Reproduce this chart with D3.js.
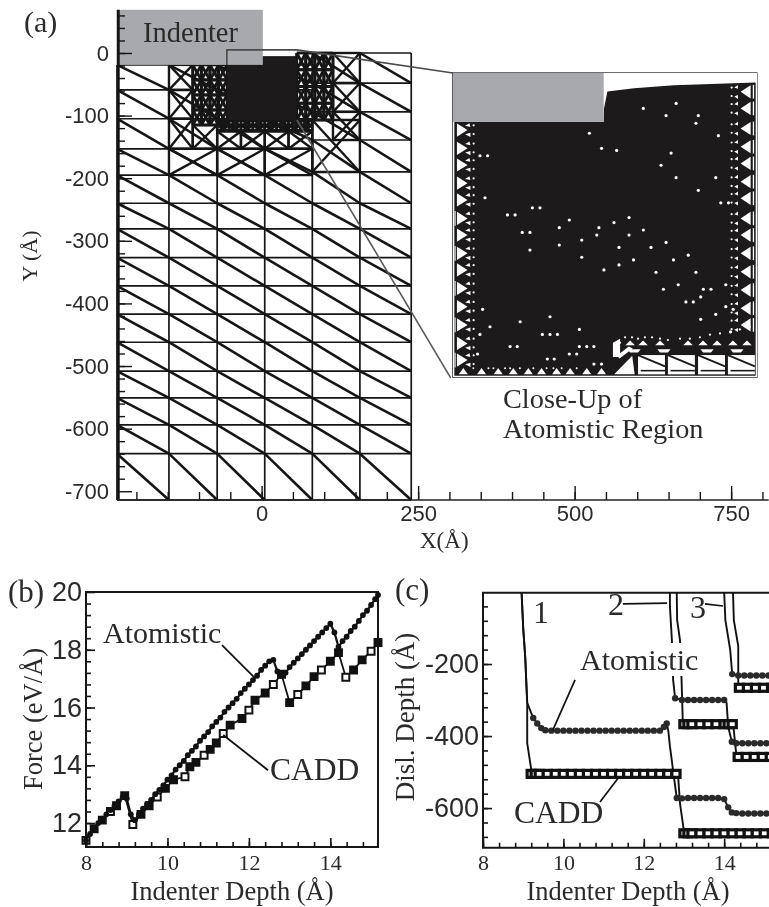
<!DOCTYPE html>
<html>
<head>
<meta charset="utf-8">
<title>Indentation mesh, force and dislocation depth</title>
<script src="https://d3js.org/d3.v7.min.js"></script>
<style>
  html, body { margin: 0; padding: 0; background: #fff; overflow: hidden; }
  svg { display: block; filter: blur(0.55px); }
  text { fill: #2a2a2a; }
  .serif, .serif text { font-family: "Liberation Serif", serif; }
  .sans, .sans text { font-family: "Liberation Sans", sans-serif; }
</style>
</head>
<body>
<svg id="fig" width="769" height="907"></svg>
<script>
// ---- panel (a): finite element mesh, all in Angstrom
const meshColumns = [-231, -148, -71, 5, 81, 157, 239];
const meshRowsLeft = [-19, -59, -105, -153, -195];
const meshRowsRight = [0, -48, -94, -139, -190];
const meshRowsShared = [-240, -281, -327, -372, -417, -462, -508, -551, -594, -640, -714];
// [x0, y0, x1, y1, subdivisions] patches of refined mesh around the atomistic box
const refinedPatches = [
  [-148, -19, -110, -59, 0], [-148, -59, -110, -105, 0], [-148, -105, -110, -153, 0], [-148, -153, -71, -195, 0],
  [-110, -19, -55, -115, 2],
  [-110, -115, -71, -153, 0], [-71, -107, -33, -125, 1], [-33, -107, 5, -125, 1], [5, -107, 43, -125, 1], [43, -107, 81, -125, 1],
  [-71, -125, -33, -153, 0], [-33, -125, 5, -153, 0], [5, -125, 43, -153, 0], [43, -125, 81, -153, 0],
  [-71, -153, 5, -195, 0], [5, -153, 81, -195, 0],
  [56, 0, 114, -107, 2], [114, 0, 157, -48, 0], [114, -48, 157, -94, 0], [114, -94, 157, -139, 0], [81, -107, 157, -190, 0]
];
const denseBox = [-55.5, -5, 56.4, -107];
const indenterBox = [-229, 69, 2, -19];
const zoomBoxPath = [[-55.5, -19], [-55.5, 5], [56.4, 5], [305.6, -32]];
const zoomLowerPath = [[56.4, -107], [302, -519]];
const zoomFrame = [305.6, -32, 791, -517.6];

// close-up of the atomistic region, in Angstrom
const closeIndenter = [-57, 0, 0, -18.5];
const closeDenseTop = [[0, -18.5], [0.1, -13.5], [1.4, -7], [11.5, -5.8], [26.6, -4.6], [46.3, -4], [57.5, -3.6]];
const closeBottomEdge = [[57.5, -114.5], [-56.5, -114.5], [-56.5, -18.5]];
const closeDotX = [15, 27.4, 23.6, 35.8, 34.9, -5.4, 43.4, -0.8, 4.9, 25.5, -46.8, -43.9, 21.7, 27.4, 42.4, 35.8, -44.9, 44.3, 47.2, -27, -24.1, -36.4, -33.5, 9.6, -13, 3.9, -16.8, -1.8, 15, -30.8, -27.9, -2.6, 9.6, -8.3, 23.6, -16.8, 5.8, 17.9, -27.9, 32, -8.3, 11.3, 26.4, 5.8, 0.1, 19.8, 34.9, 46.2, 28.2, 22.6, 37.7, 40.6, 36.7, 31.1, 33.9, 46.2, 49, -45.8, 42.4, -20.3, 36.7, -31.6, -43, -9.2, -46.8, -23.2, -20.3, -17.5, 48, -35.4, -32.7, -9.2, -6.4, -3.7, -47.7, -13, -10.2, -21.3, -18.7, -3.7, -0.8];
const closeDotY = [-13.4, -11.5, -16.1, -16.1, -19, -22.8, -23.7, -28.5, -29.3, -30.3, -31.3, -31.3, -34.9, -39.6, -39.6, -44.4, -47.2, -49.1, -49.1, -51, -51, -53.7, -53.7, -54.7, -55.6, -56.6, -58.5, -58.5, -59.4, -60.3, -60.3, -61.3, -61.3, -63.2, -64.1, -65.1, -66, -66, -67, -68.9, -69.7, -70.7, -70.7, -72.6, -74.5, -75.4, -75.4, -80.1, -80.1, -81.8, -81.8, -81.8, -84.7, -86.6, -86.6, -88.4, -89.4, -89.4, -91.3, -92.2, -93.2, -94.1, -96, -97, -98.9, -98.9, -98.9, -98.9, -97.9, -103.5, -103.5, -103.5, -103.5, -103.5, -106.3, -106.3, -106.3, -108.2, -108.2, -110.1, -110.1];
const closeLeftRows = [-21.6, -28.5, -34.8, -41.7, -48, -55, -61.3, -68.2, -74.5, -81.5, -88.4, -95.3, -102.3, -108.6];
const closeRightRows = [-7.1, -13.4, -21, -27.9, -34.2, -41.1, -47.4, -55, -61.3, -68.2, -75.2, -82.1, -89, -95.3];
const closeFloorCells = [13, 24.3, 35.7, 47];
const closeFloorTriX = [10, 14.9, 21.3, 31.9, 37.6, 42.9, 48.9, 54.2];
const closeFloorDotX = [6.2, 8.1, 10.7, 13, 15.6, 18.3, 21.3, 24.3, 28.9, 32.6, 36.4, 40.2, 44, 47.8, 51.5, 55.3];
const closeFloorDotY = [-102, -100, -100, -100.5, -100, -100, -100.5, -101, -100.5, -100.5, -100, -99, -98.5, -98, -97, -96];
const closeWedges = [
  [[3.5, -102], [6.2, -100.5], [6.2, -107.4], [3.5, -107.4]],
  [[4, -114], [10.8, -107], [11.7, -114]],
  [[5, -107], [9.5, -103.5], [11, -104.2], [6, -108]]
];
const closeBaseTriX = [-53.1, -46.2, -39.9, -34.2, -28.5, -23.5, -17.8, -12.7, -6.4, -0.8];
const closeBaseDotX = [-49.3, -43.6, -41.7, -37.3, -35.4, -31.7, -26.6, -21.6, -19, -15.9, -10.2];

// ---- panel (b): force against indenter depth
const forceAtomDepth = [8, 8.1, 8.2, 8.3, 8.4, 8.5, 8.6, 8.7, 8.8, 8.9, 9, 9.1, 9.2, 9.3, 9.4, 9.5, 9.6, 9.7, 9.8, 9.9, 10, 10.1, 10.2, 10.3, 10.4, 10.5, 10.6, 10.7, 10.8, 10.9, 11, 11.1, 11.2, 11.3, 11.4, 11.5, 11.6, 11.7, 11.8, 11.9, 12, 12.1, 12.2, 12.3, 12.4, 12.5, 12.6, 12.7, 12.8, 12.9, 13, 13.1, 13.2, 13.3, 13.4, 13.5, 13.6, 13.7, 13.8, 13.9, 14, 14.1, 14.2, 14.3, 14.4, 14.5, 14.6, 14.7, 14.8, 14.9, 15, 15.1, 15.17];
const forceAtom = [11.4, 11.62, 11.8, 12, 12.15, 12.3, 12.45, 12.6, 12.75, 12.9, 12.85, 12.3, 12.1, 12.3, 12.5, 12.65, 12.8, 13, 13.15, 13.3, 13.5, 13.65, 13.85, 14, 14.15, 14.35, 14.5, 14.65, 14.85, 15, 15.15, 15.35, 15.5, 15.65, 15.85, 16, 16.15, 16.3, 16.5, 16.65, 16.8, 16.95, 17.1, 17.3, 17.45, 17.6, 17.65, 17.25, 17.1, 17.2, 17.4, 17.55, 17.7, 17.85, 18, 18.15, 18.3, 18.45, 18.6, 18.75, 18.9, 18.6, 18.1, 18.3, 18.45, 18.65, 18.8, 19, 19.2, 19.35, 19.55, 19.75, 19.9];
const forceCaddDepth = [8, 8.2, 8.4, 8.6, 8.75, 8.95, 9.15, 9.35, 9.55, 9.75, 9.95, 10.15, 10.43, 10.55, 10.7, 10.9, 11.05, 11.2, 11.37, 11.54, 11.83, 12, 12.15, 12.4, 12.6, 12.8, 13, 13.2, 13.4, 13.6, 13.78, 14, 14.2, 14.38, 14.57, 14.78, 15, 15.17];
const forceCadd = [11.4, 11.8, 12.1, 12.4, 12.6, 12.95, 11.95, 12.3, 12.6, 12.9, 13.2, 13.5, 13.6, 13.95, 14.1, 14.35, 14.55, 14.77, 15.1, 15.39, 15.62, 15.91, 16.25, 16.5, 16.8, 17.15, 16.17, 16.45, 16.75, 17.07, 17.3, 17.6, 17.9, 17.05, 17.3, 17.65, 17.95, 18.25];
const forceAtomLeader = [[11.34, 18.16], [12.15, 17.02]];
const forceCaddLeader = [[11.37, 15.05], [12.47, 13.83]];

// ---- panel (c): dislocation depth against indenter depth, three dislocations
const plateauDepth1 = [9.25, 9.35, 9.45, 9.55, 9.7, 9.85, 10, 10.15, 10.3, 10.45, 10.6, 10.75, 10.9, 11.05, 11.2, 11.35, 11.5, 11.65, 11.8, 11.95, 12.1, 12.25, 12.4, 12.5, 12.57];
const plateauDisl1 = [-350, -365, -378, -384, -385, -385, -385, -385, -385, -385, -385, -385, -385, -385, -385, -385, -385, -385, -385, -385, -385, -385, -385, -375, -365];
const plateauDepth1b = [12.82, 12.95, 13.1, 13.25, 13.4, 13.55, 13.7, 13.85, 14, 14.1, 14.19, 14.3, 14.45, 14.6, 14.75, 14.9, 15.05, 15.2];
const plateauDisl1b = [-572, -573, -572, -572, -572, -572, -572, -572, -575, -598, -612, -614, -615, -615, -615, -615, -615, -615];
const atomFall1 = [[8.96, -2], [9, -100], [9.05, -180], [9.1, -308]];
const atomFall1b = [[12.61, -385], [12.65, -428], [12.77, -530]];

const plateauDepth2 = [12.78, 12.95, 13.1, 13.25, 13.4, 13.55, 13.7, 13.85, 14];
const plateauDisl2 = [-295, -300, -300, -300, -300, -300, -300, -300, -300];
const plateauDepth2b = [14.19, 14.3, 14.45, 14.6, 14.75, 14.9, 15.05, 15.2];
const plateauDisl2b = [-416, -420, -420, -420, -420, -420, -420, -420];
const atomFall2 = [[12.65, -2], [12.65, -40], [12.7, -135], [12.73, -244]];
const atomFall2b = [[14.06, -308], [14.1, -374]];

const plateauDepth3 = [14.2, 14.35, 14.5, 14.65, 14.8, 14.95, 15.1, 15.2];
const plateauDisl3 = [-228, -232, -232, -232, -232, -232, -232, -232];
const atomFall3 = [[14, -2], [14.03, -78], [14.15, -161]];

const caddLine1 = [[8.96, -2], [9, -100], [9.05, -180], [9.1, -308], [9.1, -420], [9.21, -500]];
const caddLine1b = [[12.85, -505], [12.9, -586], [13, -665]];
const caddLine2 = [[12.82, -2], [12.83, -78], [12.9, -133], [12.94, -244], [12.97, -360]];
const caddLine2b = [[14.23, -374], [14.3, -450]];
const caddLine3 = [[14.22, -2], [14.24, -78], [14.35, -150], [14.35, -252]];
const caddDepth1 = [9.2, 9.3, 9.4, 9.6, 9.8, 10, 10.2, 10.4, 10.6, 10.8, 11, 11.2, 11.4, 11.6, 11.8, 12, 12.2, 12.4, 12.6, 12.8];
const caddDisl1 = [-505, -505, -505, -505, -505, -505, -505, -505, -505, -505, -505, -505, -505, -505, -505, -505, -505, -505, -505, -505];
const caddDepth1b = [13, 13.1, 13.2, 13.4, 13.6, 13.8, 14, 14.2, 14.4, 14.6, 14.8, 15, 15.2];
const caddDisl1b = [-670, -670, -670, -670, -670, -670, -670, -670, -670, -670, -670, -670, -670];
const caddDepth2 = [13, 13.1, 13.2, 13.4, 13.6, 13.8, 14, 14.1, 14.2];
const caddDisl2 = [-367, -367, -367, -367, -367, -367, -367, -367, -367];
const caddDepth2b = [14.35, 14.55, 14.75, 14.95, 15.15];
const caddDisl2b = [-458, -458, -458, -458, -458];
const caddDepth3 = [14.38, 14.58, 14.78, 14.98, 15.18];
const caddDisl3 = [-266, -266, -266, -266, -266];
const leaderAtom = [[10.29, -244], [9.74, -383]];
const leaderCadd = [[10.91, -583], [11.36, -517]];
const leader2 = [[11.48, -33], [12.58, -31]];
const leader3 = [[13.52, -33], [13.97, -39]];

// tick values
const meshMajorY = [0, -100, -200, -300, -400, -500, -600, -700];
const meshMinorY = d3.range(60, -700, -20);
const meshMajorX = [0, 250, 500, 750];
const meshMinorX = d3.range(-200, 801, 50);

const svg = d3.select("#fig");
const plainInt = d => String(d);

function text(g, s, x, y, size, cls, rotate) {
  const t = g.append("text").attr("class", cls || "serif").attr("font-size", size).text(s);
  if (rotate) t.attr("transform", "translate(" + x + "," + y + ") rotate(-90)").attr("text-anchor", "middle");
  else t.attr("x", x).attr("y", y);
  return t;
}
function zip(xs, ys) { return xs.map((d, i) => [d, ys[i]]); }

// ---- panel (a)
const xA = d3.scaleLinear().domain([-231, 810]).range([117, 768.7]);
const yA = d3.scaleLinear().domain([0, -714]).range([53, 500]);
const lineA = d3.line().x(d => xA(d[0])).y(d => yA(d[1]));
const a = svg.append("g");

const meshSegs = [];
const rowsFor = c => (c >= 4 ? meshRowsRight : meshRowsLeft).concat(meshRowsShared);
meshColumns.forEach((cx, c) => {
  const rows = rowsFor(Math.min(c, 5));
  meshSegs.push({ p: [[cx, rows[0]], [cx, -714]], w: 1.7 });
  if (c == 6) return;
  rows.forEach((ry, r) => {
    meshSegs.push({ p: [[cx, ry], [meshColumns[c + 1], ry]], w: 1.7 });
    if (r < rows.length - 1) {
      const next = rowsFor(Math.min(c + 1, 5));
      meshSegs.push({ p: [[cx, ry], [meshColumns[c + 1], next[r + 1]]], w: 2.6 });
    }
  });
});
function refine(x0, y0, x1, y1, n, w) {
  if (n > 0) {
    const mx = (x0 + x1) / 2, my = (y0 + y1) / 2;
    refine(x0, y0, mx, my, n - 1, w); refine(mx, y0, x1, my, n - 1, w);
    refine(x0, my, mx, y1, n - 1, w); refine(mx, my, x1, y1, n - 1, w);
    return;
  }
  [[[x0, y0], [x1, y1]], [[x0, y1], [x1, y0]], [[x0, y0], [x1, y0]], [[x0, y1], [x1, y1]], [[x0, y0], [x0, y1]], [[x1, y0], [x1, y1]]]
    .forEach(p => meshSegs.push({ p: p, w: w }));
}
refinedPatches.forEach(d => refine(d[0], d[1], d[2], d[3], d[4], d[4] == 2 ? 2.9 : d[4] == 1 ? 2.6 : 2.4));

a.append("g").selectAll("path").data(meshSegs).enter().append("path")
  .attr("d", d => lineA(d.p)).attr("fill", "none").attr("stroke", "#161616").attr("stroke-width", d => d.w);

a.append("rect").attr("x", xA(denseBox[0])).attr("y", yA(denseBox[1]))
  .attr("width", xA(denseBox[2]) - xA(denseBox[0])).attr("height", yA(denseBox[3]) - yA(denseBox[1])).attr("fill", "#1c1a1a");
a.append("rect").attr("x", xA(indenterBox[0])).attr("y", yA(indenterBox[1]))
  .attr("width", xA(indenterBox[2]) - xA(indenterBox[0])).attr("height", yA(indenterBox[3]) - yA(indenterBox[1])).attr("fill", "#a8a9ad");

// axes of (a)
const minorLeft = d3.axisLeft(yA).tickValues(meshMinorY).tickSizeInner(-7).tickSizeOuter(0).tickFormat("");
const majorLeft = d3.axisLeft(yA).tickValues(meshMajorY).tickSizeInner(-14).tickSizeOuter(0).tickPadding(9).tickFormat(plainInt);
const minorBottom = d3.axisBottom(xA).tickValues(meshMinorX).tickSizeInner(-8).tickSizeOuter(0).tickFormat("");
const majorBottom = d3.axisBottom(xA).tickValues(meshMajorX).tickSizeInner(-14).tickSizeOuter(0).tickPadding(5).tickFormat(plainInt);
function styleAxis(g, size, cls, w) {
  g.attr("class", cls).attr("font-size", size).attr("font-family", null);
  g.selectAll("line").attr("stroke", "#161616").attr("stroke-width", w || 1.4);
  g.selectAll("text").attr("fill", "#2a2a2a");
  g.select(".domain").remove();
}
[minorLeft, majorLeft].forEach(ax => a.append("g").attr("transform", "translate(118,0)").call(ax).call(styleAxis, 22, "sans"));
[minorBottom, majorBottom].forEach(ax => a.append("g").attr("transform", "translate(0,500)").call(ax).call(styleAxis, 22, "sans"));
a.append("path").attr("d", lineA([[-229, 69], [-229, -714]])).attr("stroke", "#161616").attr("stroke-width", 3);
a.append("path").attr("d", lineA([[-231, -714], [810, -714]])).attr("stroke", "#222").attr("stroke-width", 1.5);

// close-up
const xC = d3.scaleLinear().domain([-57, 58]).range([453, 757]);
const yC = d3.scaleLinear().domain([0, -115]).range([73, 377]);
const lineC = d3.line().x(d => xC(d[0])).y(d => yC(d[1]));
const c = svg.append("g");
c.append("rect").attr("x", 453).attr("y", 73).attr("width", 304).attr("height", 304).attr("fill", "#fff");
c.append("path").attr("d", lineC(closeDenseTop.concat(closeBottomEdge)) + "Z").attr("fill", "#1c1a1a");
const whitePoly = pts => c.append("path").attr("d", lineC(pts) + "Z").attr("fill", "#fff");
const whiteDot = (x, y, r) => c.append("circle").attr("cx", xC(x)).attr("cy", yC(y)).attr("r", r || 1.6).attr("fill", "#fff");

closeLeftRows.forEach((y, i) => {
  whitePoly([[-55.5, y + 2.5], [-51.5, y], [-55.5, y - 2.5]]);
  whitePoly([[-50.8, y + 2.6], [-52.4, y + 1.6], [-50.4, y + 1.2]]);
  whitePoly([[-52.4, y - 1.6], [-50.4, y - 1], [-50.4, y - 2.6]]);
  whiteDot(-49.2, y + 1.8, 1.1); whiteDot(-49.2, y - 1.5, 1.1);
  if (i > 4 && i % 2 == 1) whitePoly([[-56.4, y + 2.8], [-56, y + 2.8], [-56, y - 2.8], [-56.4, y - 2.8]]);
});
closeRightRows.forEach(y => {
  whitePoly([[55.6, y + 2.5], [51.8, y], [55.6, y - 2.5]]);
  whitePoly([[50.8, y + 2.6], [49.4, y + 1.6], [50.8, y + 1.1]]);
  whitePoly([[50.8, y - 1.2], [49.4, y - 1.8], [50.8, y - 2.7]]);
  whiteDot(48.4, y + 1.6, 1.1); whiteDot(48.4, y - 1.6, 1.1);
  whitePoly([[56.4, y + 2.6], [56.9, y + 2.6], [56.9, y - 2.6], [56.4, y - 2.6]]);
});
closeFloorCells.forEach(x => {
  whitePoly([[x, -106.7], [x + 10.2, -106.7], [x + 10.2, -114], [x, -114]]);
  c.append("path").attr("d", lineC([[x, -106.7], [x + 10.2, -111]])).attr("stroke", "#1c1a1a").attr("stroke-width", 1.9);
  c.append("path").attr("d", lineC([[x + 1, -112.6], [x + 10.2, -112.6]])).attr("stroke", "#1c1a1a").attr("stroke-width", 1.6);
});
closeFloorTriX.forEach((x, i) => {
  whitePoly([[x - 1.8, -103], [x, -101.2], [x + 1.8, -103]]);
  if (i % 2 == 0) whitePoly([[x - 1, -104.5], [x + 4, -104.5], [x + 3, -105.7], [x, -105.7]]);
});
zip(closeFloorDotX, closeFloorDotY).forEach(d => whiteDot(d[0], d[1], 1.1));
closeWedges.forEach(whitePoly);
closeBaseTriX.forEach(x => whitePoly([[x - 1.7, -114], [x, -111.6], [x + 1.7, -114]]));
closeBaseDotX.forEach(x => whiteDot(x, -111.7, 1));
zip(closeDotX, closeDotY).forEach(d => whiteDot(d[0], d[1]));

c.append("rect").attr("x", xC(closeIndenter[0])).attr("y", yC(closeIndenter[1]))
  .attr("width", xC(closeIndenter[2]) - xC(closeIndenter[0])).attr("height", yC(closeIndenter[3]) - yC(closeIndenter[1])).attr("fill", "#a8a9ad");

// outlines tying the box to the close-up
a.append("path").attr("d", lineA(zoomBoxPath)).attr("fill", "none").attr("stroke", "#4a4a4a").attr("stroke-width", 1.6);
a.append("path").attr("d", lineA(zoomLowerPath)).attr("fill", "none").attr("stroke", "#5a5a5a").attr("stroke-width", 1.6);
a.append("rect").attr("x", xA(zoomFrame[0])).attr("y", yA(zoomFrame[1]))
  .attr("width", xA(zoomFrame[2]) - xA(zoomFrame[0])).attr("height", yA(zoomFrame[3]) - yA(zoomFrame[1]))
  .attr("fill", "none").attr("stroke", "#444").attr("stroke-width", 1.6);

text(a, "(a)", 24, 32, 30);
text(a, "Indenter", 143, 42, 28.5);
text(a, "Close-Up of", 503, 408, 28.3);
text(a, "Atomistic Region", 503, 438, 28.3);
text(a, "Y (Å)", 37, 256, 22, "serif", true);
text(a, "X(Å)", 420, 548, 23);

// ---- panel (b)
const xB = d3.scaleLinear().domain([8, 15.17]).range([86, 378]);
const yB = d3.scaleLinear().domain([11.17, 20]).range([847, 592]);
const lineB = d3.line().x(d => xB(d[0])).y(d => yB(d[1]));
const b = svg.append("g");

function plotAxes(g, x, y, xMajor, xMinor, yMajor, yMinor) {
  const bot = d3.max(y.range()), left = x.range()[0];
  g.append("g").attr("transform", "translate(0," + bot + ")")
    .call(d3.axisBottom(x).tickValues(xMinor).tickSizeInner(-5).tickSizeOuter(0).tickFormat("")).call(styleAxis, 22, "serif", 1.6);
  g.append("g").attr("transform", "translate(0," + bot + ")")
    .call(d3.axisBottom(x).tickValues(xMajor).tickSizeInner(-9).tickSizeOuter(0).tickPadding(7).tickFormat(plainInt)).call(styleAxis, 22, "serif", 1.6);
  g.append("g").attr("transform", "translate(" + left + ",0)")
    .call(d3.axisLeft(y).tickValues(yMinor).tickSizeInner(-5).tickSizeOuter(0).tickFormat("")).call(styleAxis, 27, "sans", 1.6);
  g.append("g").attr("transform", "translate(" + left + ",0)")
    .call(d3.axisLeft(y).tickValues(yMajor).tickSizeInner(-9).tickSizeOuter(0).tickPadding(4).tickFormat(plainInt)).call(styleAxis, 27, "sans", 1.6);
}
plotAxes(b, xB, yB, [8, 10, 12, 14], d3.range(8, 15.1, 0.4), [12, 14, 16, 18, 20], d3.range(11.2, 20, 0.4));
b.append("rect").attr("x", 86).attr("y", 592).attr("width", 292).attr("height", 255)
  .attr("fill", "none").attr("stroke", "#161616").attr("stroke-width", 2);

const squareSym = d3.symbol().type(d3.symbolSquare).size(48);
b.append("path").attr("d", lineB(zip(forceCaddDepth, forceCadd))).attr("fill", "none").attr("stroke", "#111").attr("stroke-width", 1.8);
b.append("path").attr("d", lineB(zip(forceAtomDepth, forceAtom))).attr("fill", "none").attr("stroke", "#111").attr("stroke-width", 2.2);
b.selectAll("path.cadd").data(zip(forceCaddDepth, forceCadd)).enter().append("path").attr("class", "cadd")
  .attr("d", squareSym).attr("transform", d => "translate(" + xB(d[0]) + "," + yB(d[1]) + ")")
  .attr("fill", (d, i) => i % 3 == 0 ? "#fff" : "#111").attr("stroke", "#111").attr("stroke-width", 2);
b.selectAll("circle.atom").data(zip(forceAtomDepth, forceAtom)).enter().append("circle").attr("class", "atom")
  .attr("cx", d => xB(d[0])).attr("cy", d => yB(d[1])).attr("r", 2.9).attr("fill", "#111");
[forceAtomLeader, forceCaddLeader].forEach(l => b.append("path").attr("d", lineB(l)).attr("stroke", "#111").attr("stroke-width", 1.8));

text(b, "(b)", 8, 602, 31);
text(b, "Atomistic", 103, 643, 30);
text(b, "CADD", 270, 780, 31.5);
text(b, "Force (eV/Å)", 42, 719, 26.5, "serif", true);
text(b, "Indenter Depth (Å)", 232, 900, 26.5).attr("text-anchor", "middle");

// ---- panel (c)
const xD = d3.scaleLinear().domain([8, 15.14]).range([483, 770]);
const yD = d3.scaleLinear().domain([-2, -710]).range([592.7, 847.7]);
const lineD = d3.line().x(d => xD(d[0])).y(d => yD(d[1]));
const p = svg.append("g");
const frameClip = svg.append("defs").append("clipPath").attr("id", "frameC");
frameClip.append("rect").attr("x", 483).attr("y", 592).attr("width", 286).attr("height", 256);

plotAxes(p, xD, yD, [8, 10, 12, 14], d3.range(8, 15.1, 0.4), [-200, -400, -600], d3.range(-40, -700, -40));
p.append("path").attr("d", lineD([[15.14, -2], [8, -2], [8, -710], [15.14, -710]])).attr("fill", "none").attr("stroke", "#161616").attr("stroke-width", 2);

const curves = p.append("g").attr("clip-path", "url(#frameC)");
const atomCurves = [
  atomFall1.concat(zip(plateauDepth1, plateauDisl1), atomFall1b, zip(plateauDepth1b, plateauDisl1b)),
  atomFall2.concat(zip(plateauDepth2, plateauDisl2), atomFall2b, zip(plateauDepth2b, plateauDisl2b)),
  atomFall3.concat(zip(plateauDepth3, plateauDisl3))
];
const caddCurves = [
  caddLine1.concat(zip(caddDepth1, caddDisl1), caddLine1b, zip(caddDepth1b, caddDisl1b)),
  caddLine2.concat(zip(caddDepth2, caddDisl2), caddLine2b, zip(caddDepth2b, caddDisl2b)),
  caddLine3.concat(zip(caddDepth3, caddDisl3))
];
caddCurves.concat(atomCurves).forEach(l => curves.append("path").attr("d", lineD(l)).attr("fill", "none").attr("stroke", "#111").attr("stroke-width", 1.9));
[[caddDepth1, caddDisl1], [caddDepth1b, caddDisl1b], [caddDepth2, caddDisl2], [caddDepth2b, caddDisl2b], [caddDepth3, caddDisl3]].forEach(s => {
  curves.append("g").selectAll("rect").data(zip(s[0], s[1])).enter().append("rect")
    .attr("x", d => xD(d[0]) - 4.1).attr("y", d => yD(d[1]) - 3.5).attr("width", 8.2).attr("height", 7)
    .attr("fill", "#fff").attr("stroke", "#111").attr("stroke-width", 3.2);
});
[[plateauDepth1, plateauDisl1], [plateauDepth1b, plateauDisl1b], [plateauDepth2, plateauDisl2], [plateauDepth2b, plateauDisl2b], [plateauDepth3, plateauDisl3]].forEach(s => {
  curves.append("g").selectAll("circle").data(zip(s[0], s[1])).enter().append("circle")
    .attr("cx", d => xD(d[0])).attr("cy", d => yD(d[1])).attr("r", 3.2).attr("fill", "#2a2a2a");
});
[leaderAtom, leaderCadd, leader2, leader3].forEach(l => p.append("path").attr("d", lineD(l)).attr("stroke", "#111").attr("stroke-width", 1.7));

// the Atomistic label sits on a white patch that cuts the falling curves
const atomLabel = text(p, "Atomistic", 580, 670, 30);
const box = atomLabel.node().getBBox();
p.append("rect").attr("x", box.x - 2).attr("y", box.y).attr("width", box.width + 4).attr("height", box.height).attr("fill", "#fff");
atomLabel.raise();
text(p, "CADD", 514, 823, 31.5);
text(p, "1", 533, 623, 32);
text(p, "2", 608, 615, 32);
text(p, "3", 690, 618, 32);
text(p, "(c)", 395, 600, 31);
text(p, "Disl. Depth (Å)", 414, 717, 27, "serif", true);
text(p, "Indenter Depth (Å)", 628, 900, 26.5).attr("text-anchor", "middle");
</script>
</body>
</html>
